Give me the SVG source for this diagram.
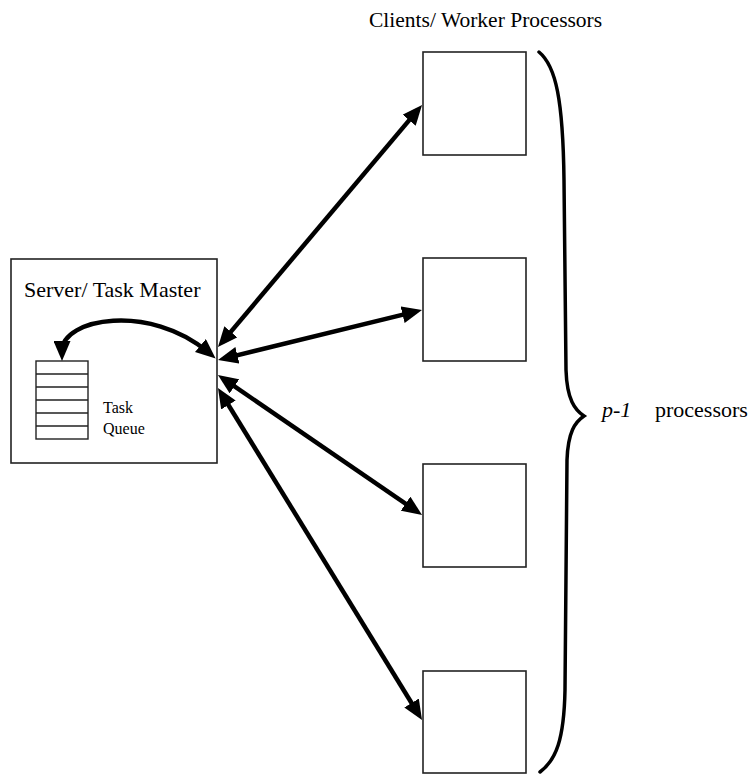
<svg xmlns="http://www.w3.org/2000/svg" width="755" height="774" viewBox="0 0 755 774">
<style>
.box{fill:#fff;stroke:#222;stroke-width:1.6}
.q{fill:none;stroke:#222;stroke-width:1.4}
.conn{fill:none;stroke:#000;stroke-width:4.5;marker-start:url(#ah);marker-end:url(#ah)}
.brace{fill:none;stroke:#000;stroke-width:3.5;stroke-linecap:round}
text{font-family:"Liberation Serif","Times New Roman",serif;fill:#000}
</style>
<defs>
<marker id="ah" markerUnits="userSpaceOnUse" markerWidth="21" markerHeight="17" refX="10" refY="8.5" orient="auto-start-reverse" viewBox="0 0 21 17">
<path d="M0,0 L20,8.5 L0,17 z" fill="#000"/>
</marker>
</defs>
<rect width="755" height="774" fill="#fff"/>
<text x="369" y="27" font-size="21.5">Clients/ Worker Processors</text>
<g id="server">
<rect class="box" x="11" y="259" width="206" height="204"/>
<text x="24" y="297" font-size="22">Server/ Task Master</text>
</g>
<g id="queue">
<rect class="q" x="36" y="361" width="52" height="78"/>
<path class="q" d="M36,374H88M36,387H88M36,400H88M36,413H88M36,426H88"/>
<text x="103" y="413" font-size="16">Task</text>
<text x="103" y="434" font-size="16">Queue</text>
</g>
<g id="client1"><rect class="box" x="423" y="52" width="103" height="103"/></g>
<g id="client2"><rect class="box" x="423" y="258" width="103" height="103"/></g>
<g id="client3"><rect class="box" x="423" y="464" width="103" height="103"/></g>
<g id="client4"><rect class="box" x="423" y="671" width="103" height="102"/></g>
<g id="connectors">
<line class="conn" x1="224.4" y1="339.4" x2="415.6" y2="112.6"/>
<line class="conn" x1="227.7" y1="357.6" x2="412.3" y2="312.4"/>
<line class="conn" x1="226.2" y1="380.7" x2="413.8" y2="509.3"/>
<line class="conn" x1="223.2" y1="396.5" x2="416.8" y2="711.5"/>
<path class="conn" d="M62,351 C62,318 150,303 208,352"/>
</g>
<g id="brace">
<path class="brace" d="M539,52 C556,66 563,100 564,180 L566,370 C567,400 575,410 584,416 C575,422 568,432 567,460 L565,690 C564,740 556,760 540,772"/>
<text x="602" y="417" font-size="22" font-style="italic">p-1</text>
<text x="655" y="417" font-size="22">processors</text>
</g>
</svg>
